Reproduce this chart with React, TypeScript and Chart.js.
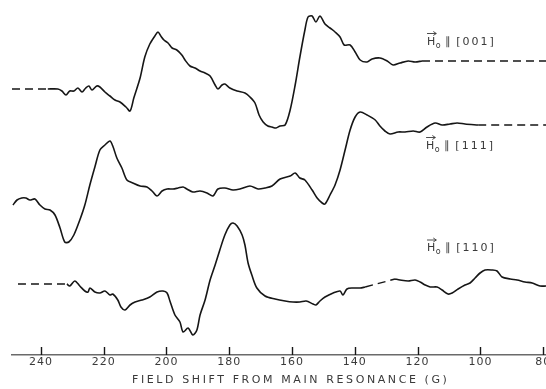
import React, { useEffect, useRef } from "react";
import { Chart, registerables } from "chart.js";

Chart.register(...registerables);

// x: field shift from main resonance (G); y: derivative signal (arbitrary units, traces offset)
const FIELD_TICKS = [240, 220, 200, 180, 160, 140, 120, 100, 80];
const FIELD_MIN = 79.1;
const FIELD_MAX = 249.2;

// H0 || [001]
const FIELD_001 = [237.8, 234.6, 233.3, 232.0, 230.8, 229.5, 228.2, 226.9, 225.7, 224.7, 223.7, 222.2, 221.2, 219.6, 218.0, 216.4, 214.8, 212.9, 211.6, 210.4, 208.4, 206.9, 205.3, 203.7, 202.7, 201.8, 200.8, 199.5, 198.2, 196.7, 195.1, 194.1, 192.5, 190.9, 189.3, 187.7, 186.1, 184.5, 183.6, 182.3, 181.4, 179.8, 177.5, 175.0, 173.4, 171.8, 170.5, 169.2, 167.7, 166.4, 165.1, 163.8, 162.2, 160.6, 159.0, 157.5, 155.9, 154.9, 153.6, 152.4, 151.1, 149.5, 147.9, 146.3, 144.7, 143.4, 141.5, 139.9, 138.3, 136.1, 134.5, 132.0, 129.7, 127.8, 125.6, 123.0, 120.8, 118.6];
const SIGNAL_001 = [266, 266, 264, 260, 264, 264, 267, 263, 267, 269, 265, 269, 268, 263, 259, 255, 253, 248, 244, 257, 277, 298, 311, 319, 323, 319, 315, 312, 307, 305, 300, 295, 289, 287, 284, 282, 279, 270, 266, 270, 271, 267, 264, 262, 258, 252, 240, 233, 229, 228, 227, 229, 230, 245, 270, 298, 325, 338, 339, 333, 339, 331, 327, 323, 318, 310, 310, 303, 295, 293, 296, 297, 294, 290, 292, 294, 293, 294];
const BASE_001_LEFT: [number, number][] = [[249.2, 266], [237.8, 266]];
const BASE_001_RIGHT: [number, number][] = [[118.6, 294], [79.1, 294]];

// H0 || [111]
const FIELD_111 = [248.9, 247.6, 246.1, 244.8, 243.5, 241.9, 240.3, 238.7, 237.1, 235.5, 233.9, 232.4, 231.1, 229.5, 227.6, 226.0, 224.4, 222.8, 221.2, 219.6, 218.0, 217.1, 215.8, 214.2, 212.6, 210.7, 208.4, 206.2, 204.6, 203.0, 201.4, 199.8, 197.9, 196.3, 194.7, 193.5, 191.6, 189.3, 187.1, 185.2, 183.6, 181.4, 178.8, 176.6, 173.4, 170.8, 168.6, 166.4, 163.8, 160.6, 159.0, 157.5, 155.9, 153.6, 152.0, 150.4, 149.5, 147.9, 146.3, 144.7, 143.1, 141.5, 139.9, 138.3, 136.1, 133.5, 132.0, 130.4, 128.8, 126.2, 124.0, 121.4, 119.2, 117.0, 114.4, 112.2, 109.7, 107.4, 104.9, 100.7];
const SIGNAL_111 = [150, 155, 157, 157, 155, 156, 150, 146, 145, 140, 127, 113, 113, 120, 135, 150, 170, 188, 205, 210, 214, 209, 197, 187, 175, 172, 169, 168, 164, 159, 164, 166, 166, 167, 168, 166, 163, 164, 162, 159, 166, 167, 165, 166, 169, 166, 167, 169, 176, 179, 182, 177, 175, 165, 157, 152, 151, 160, 170, 185, 205, 225, 238, 243, 240, 235, 229, 224, 221, 223, 223, 224, 223, 228, 232, 230, 231, 232, 231, 230];
const BASE_111_RIGHT: [number, number][] = [[100.7, 230], [79.1, 230]];

// H0 || [110]
const FIELD_110_A = [231.7, 230.8, 229.2, 227.6, 226.0, 225.0, 224.4, 222.8, 221.2, 219.6, 218.0, 217.1, 215.5, 214.5, 213.2, 211.6, 210.0, 207.8, 205.3, 203.0, 201.1, 199.8, 198.9, 197.3, 195.7, 194.7, 193.1, 191.6, 190.3, 189.3, 187.7, 186.1, 184.5, 183.0, 181.4, 179.8, 178.8, 177.5, 175.9, 175.0, 174.0, 172.8, 171.2, 168.6, 165.4, 162.2, 159.7, 157.5, 155.5, 153.3, 152.4, 151.1, 149.5, 146.9, 144.7, 143.8, 142.5, 140.6, 138.3, 136.7];
const SIGNAL_110_A = [71, 69, 74, 69, 64, 63, 67, 63, 62, 64, 60, 61, 55, 48, 45, 50, 53, 55, 58, 63, 64, 62, 54, 40, 33, 23, 27, 20, 25, 40, 55, 75, 90, 105, 120, 130, 132, 129, 120, 110, 92, 80, 67, 59, 56, 54, 53, 53, 54, 51, 50, 54, 58, 62, 64, 60, 66, 67, 67, 68];
const FIELD_110_B = [127.2, 125.6, 123.0, 120.8, 119.2, 117.6, 116.0, 113.8, 112.2, 110.3, 109.0, 107.1, 104.9, 103.3, 101.7, 100.1, 98.5, 96.3, 94.7, 93.1, 90.5, 88.3, 85.8, 83.5, 81.0, 79.1];
const SIGNAL_110_B = [76, 75, 74, 75, 73, 70, 68, 68, 65, 61, 62, 66, 70, 72, 77, 82, 85, 85, 84, 78, 76, 75, 73, 72, 69, 69];
const BASE_110_LEFT: [number, number][] = [[247.3, 71], [231.7, 71]];
const BASE_110_GAP: [number, number][] = [[136.7, 68], [127.2, 76]];

const TRACE_LABELS = ["[001]", "[111]", "[110]"];
const LABEL_FIELD = [117.0, 117.3, 117.0];
const LABEL_SIGNAL = [310.5, 206.5, 104];

const AXIS_TITLE = "FIELD SHIFT FROM MAIN RESONANCE (G)";

const INK = "#161616";
const TEXT = "#3a3a3a";

function zipPts(xs: number[], ys: number[]) {
  return xs.map((x, i) => ({ x, y: ys[i] }));
}
function pairPts(p: [number, number][]) {
  return p.map(([x, y]) => ({ x, y }));
}

function solid(data: { x: number; y: number }[]) {
  return {
    data,
    borderColor: INK,
    borderWidth: 1.6,
    pointRadius: 0,
    tension: 0.3,
    fill: false,
  };
}
function dashed(data: { x: number; y: number }[]) {
  return {
    data,
    borderColor: INK,
    borderWidth: 1.4,
    borderDash: [8, 5],
    pointRadius: 0,
    tension: 0,
    fill: false,
  };
}

const decorPlugin = {
  id: "decor",
  beforeDraw(chart: any) {
    chart.ctx.letterSpacing = "1px";
  },
  afterDraw(chart: any) {
    const { ctx, chartArea, scales } = chart;
    const xs = scales.x;
    const ys = scales.y;
    ctx.save();
    // upward tick marks
    ctx.strokeStyle = INK;
    ctx.lineWidth = 1.4;
    FIELD_TICKS.forEach((v) => {
      const px = Math.round(xs.getPixelForValue(v)) + 0.5;
      ctx.beginPath();
      ctx.moveTo(px, chartArea.bottom);
      ctx.lineTo(px, chartArea.bottom - 8);
      ctx.stroke();
    });
    // axis title
    ctx.fillStyle = TEXT;
    ctx.font = "11px 'DejaVu Sans'";
    ctx.letterSpacing = "2.6px";
    ctx.textAlign = "left";
    ctx.textBaseline = "alphabetic";
    ctx.fillText(AXIS_TITLE, chartArea.left + 120, 383);

    // trace labels
    TRACE_LABELS.forEach((lab, i) => {
      const x = xs.getPixelForValue(LABEL_FIELD[i]);
      const y = ys.getPixelForValue(LABEL_SIGNAL[i]);
      ctx.letterSpacing = "0px";
      ctx.font = "11px 'DejaVu Sans'";
      ctx.fillStyle = TEXT;
      ctx.fillText("H", x, y);
      const hw = ctx.measureText("H").width;
      // vector arrow over H
      ctx.strokeStyle = TEXT;
      ctx.lineWidth = 0.9;
      const ay = y - 11;
      ctx.beginPath();
      ctx.moveTo(x, ay);
      ctx.lineTo(x + hw + 1, ay);
      ctx.stroke();
      ctx.beginPath();
      ctx.moveTo(x + hw + 1, ay);
      ctx.lineTo(x + hw - 2, ay - 2);
      ctx.moveTo(x + hw + 1, ay);
      ctx.lineTo(x + hw - 2, ay + 2);
      ctx.stroke();
      ctx.font = "8px 'DejaVu Sans'";
      ctx.fillText("o", x + hw + 0.5, y + 3);
      ctx.font = "11px 'DejaVu Sans'";
      ctx.fillText("\u2225", x + hw + 10, y);
      ctx.letterSpacing = "2px";
      ctx.fillText(lab, x + hw + 21, y);
    });
    ctx.restore();
    ctx.letterSpacing = "0px";
  },
};

export default function App() {
  const ref = useRef<HTMLCanvasElement | null>(null);
  useEffect(() => {
    document.body.style.margin = "0";
    const canvas = ref.current;
    if (!canvas) return;
    const chart = new Chart(canvas, {
      type: "line",
      data: {
        datasets: [
          solid(zipPts(FIELD_001, SIGNAL_001)),
          dashed(pairPts(BASE_001_LEFT)),
          dashed(pairPts(BASE_001_RIGHT)),
          solid(zipPts(FIELD_111, SIGNAL_111)),
          dashed(pairPts(BASE_111_RIGHT)),
          solid(zipPts(FIELD_110_A, SIGNAL_110_A)),
          solid(zipPts(FIELD_110_B, SIGNAL_110_B)),
          dashed(pairPts(BASE_110_LEFT)),
          dashed(pairPts(BASE_110_GAP)),
        ] as any,
      },
      options: {
        animation: false,
        responsive: false,
        devicePixelRatio: 1,
        layout: { padding: { left: 12, right: 0, top: 0, bottom: 0 } },
        plugins: {
          legend: { display: false },
          tooltip: { enabled: false },
          title: { display: false },
        },
        scales: {
          x: {
            type: "linear",
            reverse: true,
            min: FIELD_MIN,
            max: FIELD_MAX,
            afterBuildTicks: (scale: any) => {
              scale.ticks = FIELD_TICKS.map((v) => ({ value: v }));
            },
            afterFit: (scale: any) => {
              scale.height = 34;
              scale.paddingLeft = 0;
              scale.paddingRight = 0;
            },
            grid: { display: false, drawTicks: false },
            border: { display: true, color: "#6a6a6a", width: 1.5 },
            ticks: {
              autoSkip: false,
              maxRotation: 0,
              padding: 1,
              color: TEXT,
              font: { family: "'DejaVu Sans'", size: 11 },
              callback: (v: any) => String(v),
            },
          },
          y: {
            display: false,
            min: 0,
            max: 355,
          },
        },
      } as any,
      plugins: [decorPlugin],
    });
    return () => chart.destroy();
  }, []);
  return (
    <div style={{ width: 546, height: 389, background: "#fff" }}>
      <canvas ref={ref} width={546} height={389} style={{ display: "block" }} />
    </div>
  );
}
